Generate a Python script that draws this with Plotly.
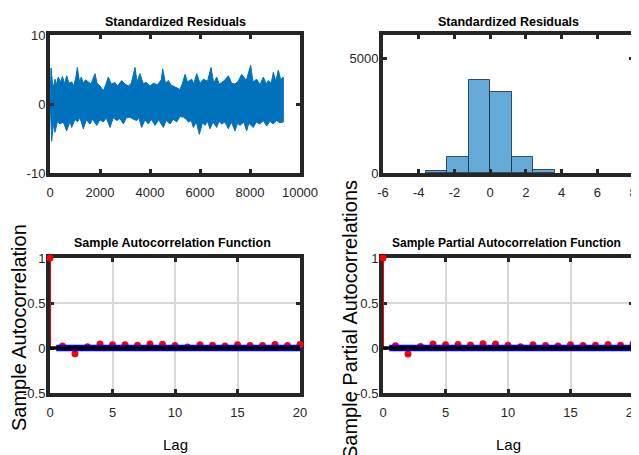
import plotly.graph_objects as go

# ---------------- data ----------------
# Standardized residuals (upper / lower envelope)
res_up_x = [0, 40, 100, 150, 200, 260, 330, 420, 500, 580, 667, 760, 867, 950, 1040, 1093, 1180, 1250, 1333, 1420,
            1533, 1640, 1800, 1880, 2000, 2133, 2230, 2333, 2450, 2600, 2700, 2867, 3000, 3133, 3250, 3400, 3480,
            3600, 3720, 3867, 4000, 4133, 4300, 4450, 4507, 4620, 4733, 4850, 4933, 5050, 5200, 5300, 5400, 5500,
            5667, 5750, 5867, 6000, 6133, 6300, 6440, 6550, 6667, 6760, 6867, 7000, 7133, 7270, 7400, 7530, 7667,
            7850, 8027, 8120, 8267, 8400, 8533, 8650, 8733, 8850, 8933, 9030, 9133, 9230, 9333]
res_up_y = [0.5, 5.2, 3.0, 2.5, 3.6, 2.8, 3.9, 3.2, 4.0, 2.9, 4.1, 3.0, 3.2, 2.6, 4.0, 5.3, 3.2, 3.9, 3.0, 3.5,
            3.2, 2.9, 4.4, 3.0, 2.6, 1.9, 2.8, 3.9, 2.9, 3.1, 2.6, 3.4, 2.9, 2.6, 3.0, 5.3, 3.2,
            4.4, 3.0, 3.1, 2.6, 3.0, 2.8, 3.5, 5.1, 3.0, 3.4, 2.7, 2.6, 2.4, 2.1, 3.0, 4.3, 3.2,
            3.6, 2.9, 4.4, 3.0, 3.6, 3.3, 5.3, 3.0, 3.9, 2.9, 3.1, 3.5, 4.1, 3.0, 2.9, 3.3, 4.3,
            3.4, 5.6, 3.2, 3.6, 2.8, 3.9, 2.9, 3.4, 3.0, 4.6, 3.3, 4.9, 3.5, 3.9]
res_lo_x = [0, 27, 67, 130, 200, 300, 400, 530, 667, 800, 867, 1000, 1093, 1200, 1333, 1450, 1600, 1700, 1867,
            2000, 2133, 2250, 2400, 2530, 2667, 2800, 2933, 3050, 3200, 3330, 3467, 3550, 3667, 3800, 3933, 4050,
            4200, 4350, 4533, 4650, 4800, 4930, 5067, 5200, 5333, 5450, 5533, 5650, 5733, 5850, 5973, 6100, 6200,
            6300, 6400, 6520, 6667, 6760, 6867, 7000, 7133, 7250, 7400, 7500, 7600, 7750, 7867, 7950, 8133, 8250,
            8400, 8530, 8667, 8800, 8933, 9050, 9200, 9333]
res_lo_y = [-0.5, -1.5, -5.4, -3.0, -4.1, -2.5, -2.9, -2.6, -3.9, -2.5, -3.4, -2.2, -2.6, -2.0, -3.6, -2.3, -2.9,
            -2.2, -3.1, -2.3, -2.6, -2.0, -3.4, -2.0, -2.4, -2.1, -2.9, -2.0, -1.9, -2.2, -2.4, -2.0, -3.4, -2.3,
            -2.9, -2.2, -3.1, -2.3, -3.4, -2.4, -2.9, -2.2, -2.6, -1.8, -1.9, -2.2, -2.6, -2.4, -3.4, -2.6, -4.4,
            -2.7, -3.1, -2.5, -3.6, -2.6, -3.4, -2.5, -2.9, -2.6, -3.6, -2.6, -3.9, -2.8, -3.1, -2.6, -3.9, -2.8,
            -3.4, -2.6, -2.9, -2.4, -3.2, -2.5, -2.9, -2.4, -2.7, -2.6]

# Histogram of standardized residuals
hist_centers = [-3.015, -1.81, -0.605, 0.605, 1.81, 3.015]
hist_width = 1.205
hist_counts = [90, 700, 4050, 3520, 690, 140]

# ACF / PACF
lags = list(range(21))
acf_vals = [1.0, 0.022, -0.065, 0.015, 0.045, 0.035, 0.035, 0.030, 0.045, 0.042, 0.028,
            0.012, 0.035, 0.030, 0.022, 0.035, 0.028, 0.028, 0.038, 0.028, 0.040]
pacf_vals = [1.0, 0.025, -0.068, 0.018, 0.045, 0.035, 0.038, 0.033, 0.048, 0.045, 0.030,
             0.015, 0.035, 0.028, 0.022, 0.035, 0.028, 0.030, 0.038, 0.030, 0.045]
conf_bounds = [0.0207, -0.0207]
bound_lag_start = 0.5
num_lags = 20

# tick labels
res_xticks = [0, 2000, 4000, 6000, 8000, 10000]
res_yticks = [-10, 0, 10]
hist_xticks = [-6, -4, -2, 0, 2, 4, 6, 8]
hist_yticks = [0, 5000]
acf_xticks = [0, 5, 10, 15, 20]
acf_yticks = [-0.5, 0, 0.5, 1]

# ---------------- figure ----------------
# The page body keeps its default 8px margin, so the figure is laid out in
# screen pixels shifted by that margin.
OFF = 8
W, H = 639 - OFF, 455 - OFF
FONT = "Liberation Sans, Arial, Helvetica, sans-serif"
FRAME = "#262626"
BLUE = "#0072BD"
RED = "#FF0000"

def dx(a, b):
    return [(a - OFF) / W, (b - OFF) / W]

def dy(top, bottom):
    return [1 - (bottom - OFF) / H, 1 - (top - OFF) / H]

fig = go.Figure()

# top-left: residual series (band)
band_x = res_up_x + res_lo_x[::-1]
band_y = res_up_y + res_lo_y[::-1]
fig.add_trace(go.Scatter(x=band_x, y=band_y, mode="lines", fill="toself", fillcolor=BLUE,
                         line=dict(color=BLUE, width=1), xaxis="x", yaxis="y", hoverinfo="skip"))

# top-right: histogram
fig.add_trace(go.Bar(x=hist_centers, y=hist_counts, width=hist_width,
                     marker=dict(color="rgb(102,170,215)", line=dict(color="rgba(20,40,70,0.8)", width=1)),
                     xaxis="x2", yaxis="y2"))

def add_corr(vals, xa, ya):
    sx, sy = [], []
    for l, v in zip(lags, vals):
        sx += [l, l, None]
        sy += [0, v, None]
    fig.add_trace(go.Scatter(x=sx, y=sy, mode="lines", line=dict(color=RED, width=2),
                             xaxis=xa, yaxis=ya, cliponaxis=False, hoverinfo="skip"))
    fig.add_trace(go.Scatter(x=lags, y=vals, mode="markers", marker=dict(color=RED, size=7),
                             xaxis=xa, yaxis=ya, cliponaxis=False))
    for b in conf_bounds:
        fig.add_trace(go.Scatter(x=[bound_lag_start, num_lags], y=[b, b], mode="lines",
                                 line=dict(color="#0000FF", width=3), xaxis=xa, yaxis=ya))
    fig.add_trace(go.Scatter(x=[0, num_lags], y=[0, 0], mode="lines",
                             line=dict(color="black", width=3.5), xaxis=xa, yaxis=ya))

add_corr(acf_vals, "x3", "y3")
add_corr(pacf_vals, "x4", "y4")

tickfont = dict(family=FONT, size=13, color=FRAME)

def axis(domain, rng, ticks, anchor, grid=False, layer="above traces", standoff=0):
    return dict(domain=domain, range=rng, tickvals=ticks, ticktext=[str(t) for t in ticks],
                anchor=anchor, showline=True, linewidth=4, linecolor=FRAME, mirror="allticks",
                ticks="inside", ticklen=4, tickwidth=3, tickcolor=FRAME, automargin=False,
                showgrid=grid, gridcolor="#d9d9d9", gridwidth=2, zeroline=False,
                tickfont=tickfont, layer=layer, ticklabelstandoff=standoff,
                ticklabeloverflow="allow", fixedrange=True)

LX = dx(50, 300)
RX = dx(383, 633)
TY = dy(35, 173)
BY = dy(258, 393)

fig.update_layout(
    template="none",
    width=W, height=H, margin=dict(l=0, r=0, t=0, b=0, autoexpand=False),
    paper_bgcolor="white", plot_bgcolor="white", showlegend=False, bargap=0,
    xaxis=axis(LX, [0, 10000], res_xticks, "y", standoff=4),
    yaxis=axis(TY, [-10, 10], res_yticks, "x", standoff=-2),
    xaxis2=axis(RX, [-6, 8], hist_xticks, "y2", standoff=4),
    yaxis2=axis(TY, [0, 6000], hist_yticks, "x2", standoff=-2),
    xaxis3=axis(LX, [0, 20], acf_xticks, "y3", grid=True, layer="below traces", standoff=4),
    yaxis3=axis(BY, [-0.5, 1], acf_yticks, "x3", grid=True, layer="below traces", standoff=-2),
    xaxis4=axis(RX, [0, 20], acf_xticks, "y4", grid=True, layer="below traces", standoff=4),
    yaxis4=axis(BY, [-0.5, 1], acf_yticks, "x4", grid=True, layer="below traces", standoff=-2),
)

def ann(text, x, y, size, bold=False, angle=0):
    fig.add_annotation(text=f"<b>{text}</b>" if bold else text, x=(x - OFF) / W, y=1 - (y - OFF) / H,
                       xref="paper", yref="paper", showarrow=False, textangle=angle,
                       xanchor="center", yanchor="middle",
                       font=dict(family=FONT, size=size, color="black"))

ann("Standardized Residuals", 175, 22, 12.5, bold=True)
ann("Standardized Residuals", 508, 22, 12.5, bold=True)
ann("Sample Autocorrelation Function", 172, 243, 12.5, bold=True)
ann("Sample Partial Autocorrelation Function", 507, 243, 12, bold=True)
ann("Lag", 175, 444, 15)
ann("Lag", 508, 444, 15)
ann("Sample Autocorrelation", 19, 328, 20, angle=-90)
ann("Sample Partial Autocorrelations", 350, 320, 20, angle=-90)

fig.write_html("out.html")
